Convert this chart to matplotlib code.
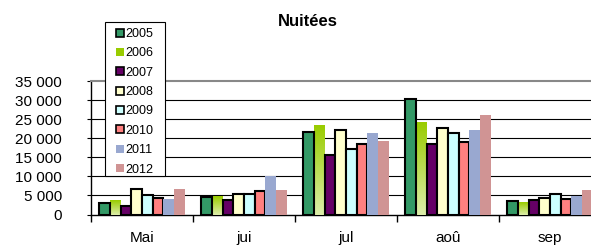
import matplotlib.pyplot as plt
import numpy as np
from matplotlib.lines import Line2D
from matplotlib.patches import Rectangle
from matplotlib.colors import LinearSegmentedColormap

plt.rcParams['font.family'] = ['Liberation Sans', 'DejaVu Sans']

months = ['Mai', 'jui', 'jul', 'aoû', 'sep']
years = ['2005', '2006', '2007', '2008', '2009', '2010', '2011', '2012']
v2005 = [2900, 4700, 21500, 30300, 3600]
v2006 = [3750, 4800, 23400, 24200, 3300]
v2007 = [2300, 3750, 15500, 18500, 3900]
v2008 = [6700, 5250, 22100, 22800, 4200]
v2009 = [5050, 5250, 17300, 21400, 5500]
v2010 = [4350, 6100, 18600, 19100, 4000]
v2011 = [3950, 10100, 21300, 22100, 4800]
v2012 = [6650, 6400, 19400, 26200, 6400]
values = [v2005, v2006, v2007, v2008, v2009, v2010, v2011, v2012]

colors = ['#339966', '#99CC00', '#660066', '#FFFFCC', '#CCFFFF', '#FF8080', '#99A8D0', '#D09494']
edged = [True, False, True, True, True, True, False, False]

W, H = 591, 249
fig = plt.figure(figsize=(W/100, H/100), dpi=100)
ax = fig.add_axes([91/W, 1-214.5/H, 510/W, 133.5/H])

x = np.arange(len(months))
w = 0.105
grad = LinearSegmentedColormap.from_list('g', ['#DDEEAA', '#99CC00'])
for i, (vals, c) in enumerate(zip(values, colors)):
    pos = x - 4*w + w/2 + i*w
    bars = ax.bar(pos, vals, w, color=c,
                  edgecolor='black' if edged[i] else c,
                  linewidth=1.5 if edged[i] else 0, zorder=3)
    if i == 1:
        # gradient fill like the original
        for b in bars:
            b.set_facecolor('none')
            x0, y0 = b.get_x(), b.get_y()
            im = ax.imshow(np.linspace(0, 1, 100).reshape(-1, 1), cmap=grad, origin='lower',
                           extent=[x0, x0 + b.get_width(), y0, y0 + b.get_height()],
                           aspect='auto', zorder=2.9)
            im.set_clip_path(b)

ax.set_xlim(-0.5, 4.5)
ax.set_ylim(0, 35000)
ax.set_yticks(np.arange(0, 35001, 5000))
ax.set_yticklabels(['0', '5 000', '10 000', '15 000', '20 000', '25 000', '30 000', '35 000'], fontsize=11)
ax.set_xticks(x)
ax.set_xticklabels(months, fontsize=11)
ax.set_xticks(np.arange(-0.5, 5, 1), minor=True)
ax.tick_params(axis='x', which='major', length=0, pad=12)
ax.tick_params(axis='x', which='minor', length=5, width=1, direction='out')
ax.tick_params(axis='y', length=3, direction='out', pad=18)

for yv in range(5000, 35000, 5000):
    ax.axhline(yv, color='black', lw=0.8, zorder=1)
ax.spines['top'].set_color('#888888')
ax.spines['top'].set_linewidth(1.5)
ax.spines['right'].set_visible(False)
ax.spines['left'].set_linewidth(1)
ax.spines['bottom'].set_linewidth(1)

fig.text(308/W, 1-21/H, 'Nuitées', fontsize=12, fontweight='bold', ha='center', va='center')

# legend box drawn by hand so it has the original's wide padding
box = Rectangle((105/W, 1-176/H), 60/W, 154/H, transform=fig.transFigure,
                facecolor='white', edgecolor='black', lw=0.8, zorder=9)
fig.patches.append(box)

handles = []
for c, e in zip(colors, edged):
    handles.append(Line2D([], [], marker='s', linestyle='none', markersize=6,
                          markerfacecolor=c, markeredgecolor='black' if e else c,
                          markeredgewidth=1.2 if e else 0))
leg = fig.legend(handles, years, loc='upper left', bbox_to_anchor=(116/W, 1-28/H),
                 fontsize=9, frameon=False, borderpad=0,
                 labelspacing=0.59, handlelength=0.6, handletextpad=0.15, borderaxespad=0)
leg.set_zorder(10)

fig.savefig('out.png', dpi=100)
